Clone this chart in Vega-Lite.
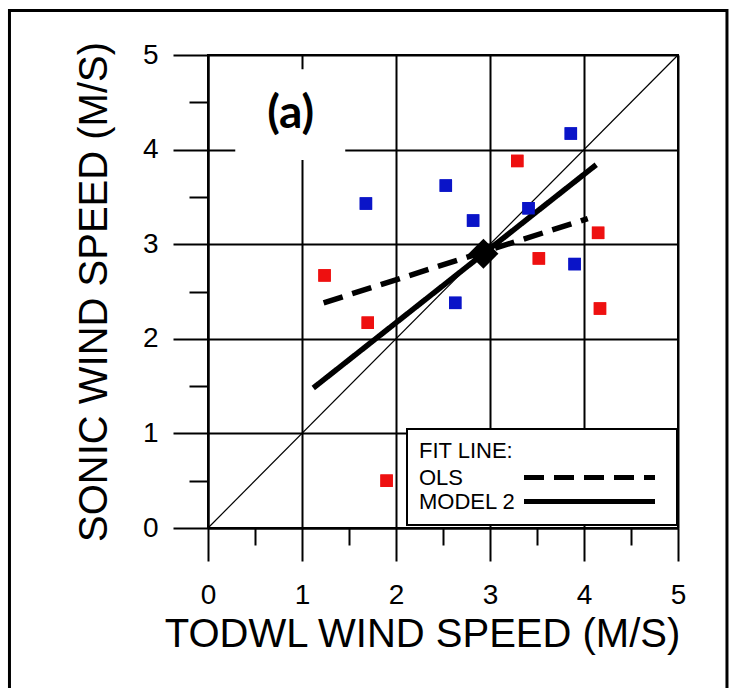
{
  "$schema": "https://vega.github.io/schema/vega-lite/v6.json",
  "width": 470,
  "height": 473,
  "autosize": {"type": "none"},
  "padding": {"left": 208, "top": 55, "right": 51, "bottom": 160},
  "background": "white",
  "datasets": {
    "points": [
      {"x": 3.86, "y": 4.17, "set": "A"},
      {"x": 2.53, "y": 3.62, "set": "A"},
      {"x": 1.68, "y": 3.43, "set": "A"},
      {"x": 2.82, "y": 3.25, "set": "A"},
      {"x": 3.41, "y": 3.38, "set": "A"},
      {"x": 3.90, "y": 2.79, "set": "A"},
      {"x": 2.63, "y": 2.38, "set": "A"},
      {"x": 3.29, "y": 3.88, "set": "B"},
      {"x": 4.15, "y": 3.12, "set": "B"},
      {"x": 3.52, "y": 2.85, "set": "B"},
      {"x": 4.17, "y": 2.32, "set": "B"},
      {"x": 1.24, "y": 2.67, "set": "B"},
      {"x": 1.70, "y": 2.17, "set": "B"},
      {"x": 1.90, "y": 0.50, "set": "B"}
    ],
    "fits": [
      {"fit": "OLS", "x": 1.23, "y": 2.38},
      {"fit": "OLS", "x": 4.04, "y": 3.27},
      {"fit": "MODEL 2", "x": 1.12, "y": 1.48},
      {"fit": "MODEL 2", "x": 4.13, "y": 3.84}
    ],
    "diag": [
      {"x": 0, "y": 0},
      {"x": 5, "y": 5}
    ],
    "mean": [
      {"x": 2.93, "y": 2.90}
    ],
    "label": [
      {"label": "(a)"}
    ]
  },
  "layer": [
    {
      "data": {"name": "points"},
      "mark": {"type": "point", "shape": "square", "filled": true, "size": 155, "opacity": 1},
      "encoding": {
        "x": {
          "field": "x",
          "type": "quantitative",
          "scale": {"domain": [0, 5], "nice": false, "zero": false},
          "axis": {
            "title": "TODWL WIND SPEED (M/S)",
            "values": [0, 0.5, 1, 1.5, 2, 2.5, 3, 3.5, 4, 4.5, 5],
            "labelExpr": "datum.value % 1 === 0 ? '' + datum.value : ''",
            "tickSize": {"condition": {"test": "datum.value % 1 === 0", "value": 33}, "value": 17},
            "gridOpacity": {"condition": {"test": "datum.value % 1 === 0", "value": 1}, "value": 0},
            "labelPadding": 20,
            "titleX": 214,
            "titleY": 118,
            "titleBaseline": "alphabetic",
            "titleAlign": "center"
          }
        },
        "y": {
          "field": "y",
          "type": "quantitative",
          "scale": {"domain": [0, 5], "nice": false, "zero": false},
          "axis": {
            "title": "SONIC WIND SPEED (M/S)",
            "values": [0, 0.5, 1, 1.5, 2, 2.5, 3, 3.5, 4, 4.5, 5],
            "labelExpr": "datum.value % 1 === 0 ? '' + datum.value : ''",
            "tickSize": {"condition": {"test": "datum.value % 1 === 0", "value": 35}, "value": 19},
            "gridOpacity": {"condition": {"test": "datum.value % 1 === 0", "value": 1}, "value": 0},
            "labelPadding": 15,
            "titleX": -102,
            "titleY": 236.5,
            "titleAngle": 270,
            "titleBaseline": "alphabetic",
            "titleAlign": "center"
          }
        },
        "color": {
          "field": "set",
          "type": "nominal",
          "scale": {"domain": ["A", "B"], "range": ["#0a14c8", "#ee1010"]},
          "legend": null
        }
      }
    },
    {
      "data": {"values": [{}]},
      "mark": {"type": "rect", "fill": "white", "stroke": null},
      "encoding": {
        "x": {"datum": 0.29, "type": "quantitative"},
        "x2": {"datum": 1.46},
        "y": {"datum": 3.89, "type": "quantitative"},
        "y2": {"datum": 4.85}
      }
    },
    {
      "data": {"name": "diag"},
      "mark": {"type": "line", "color": "black", "strokeWidth": 1.2},
      "encoding": {
        "x": {"field": "x", "type": "quantitative"},
        "y": {"field": "y", "type": "quantitative"}
      }
    },
    {
      "data": {"name": "fits"},
      "mark": {"type": "line", "color": "black", "strokeWidth": 5.5, "strokeCap": "butt"},
      "encoding": {
        "x": {"field": "x", "type": "quantitative"},
        "y": {"field": "y", "type": "quantitative"},
        "strokeDash": {
          "field": "fit",
          "type": "nominal",
          "scale": {"domain": ["OLS", "MODEL 2"], "range": [[20, 10], [1, 0]]},
          "legend": {
            "title": "FIT LINE:",
            "orient": "none",
            "legendX": 199,
            "legendY": 374,
            "direction": "vertical",
            "symbolType": "M-6.55,0H6.55",
            "symbolSize": 400,
            "symbolStrokeWidth": 5,
            "symbolStrokeColor": "black",
            "labelOffset": -183,
            "symbolOffset": 158,
            "fillColor": "white",
            "strokeColor": "black",
            "padding": 12,
            "titlePadding": 2,
            "rowPadding": 0,
            "labelFontSize": 22,
            "labelFont": "Liberation Sans",
            "labelColor": "black",
            "titleFontSize": 22,
            "titleFont": "Liberation Sans",
            "titleFontWeight": "normal",
            "titleColor": "black"
          }
        }
      }
    },
    {
      "data": {"name": "points"},
      "mark": {"type": "point", "shape": "square", "filled": true, "size": 155, "opacity": 1},
      "encoding": {
        "x": {"field": "x", "type": "quantitative"},
        "y": {"field": "y", "type": "quantitative"},
        "color": {"field": "set", "type": "nominal", "legend": null}
      }
    },
    {
      "data": {"name": "mean"},
      "mark": {"type": "point", "shape": "diamond", "filled": true, "size": 900, "color": "black", "opacity": 1},
      "encoding": {
        "x": {"field": "x", "type": "quantitative"},
        "y": {"field": "y", "type": "quantitative"}
      }
    },
    {
      "data": {"name": "label"},
      "mark": {"type": "text", "font": "Lato", "fontWeight": "bold", "fontSize": 46, "align": "center", "baseline": "middle", "color": "black"},
      "encoding": {
        "x": {"datum": 0.88, "type": "quantitative"},
        "y": {"datum": 4.38, "type": "quantitative"},
        "text": {"field": "label"}
      }
    },
    {
      "data": {"values": [{}]},
      "mark": {"type": "rect", "fill": null, "fillOpacity": 0, "stroke": "black", "strokeWidth": 3, "clip": false},
      "encoding": {
        "x": {"datum": -2.112, "type": "quantitative"},
        "x2": {"datum": 5.521},
        "y": {"datum": 5.47, "type": "quantitative"},
        "y2": {"datum": -1.734}
      }
    }
  ],
  "config": {
    "view": {"stroke": "black", "strokeWidth": 2},
    "axis": {
      "domainColor": "black",
      "domainWidth": 2,
      "tickColor": "black",
      "tickWidth": 2,
      "gridColor": "black",
      "gridWidth": 2,
      "grid": true,
      "labelColor": "black",
      "labelFont": "Liberation Sans",
      "labelFontSize": 28,
      "labelFlush": false,
      "labelOverlap": false,
      "labelBound": false,
      "titleFont": "Liberation Sans",
      "titleFontSize": 40,
      "titleFontWeight": "normal",
      "titleColor": "black"
    },
    "legend": {
      "strokeWidth": 2
    }
  }
}
